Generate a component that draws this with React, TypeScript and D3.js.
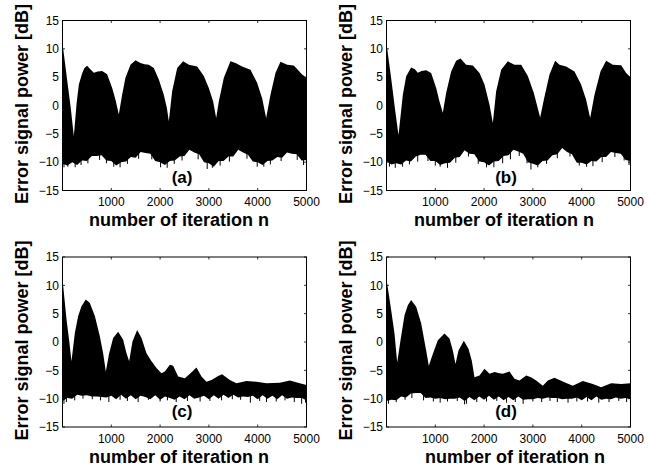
import React, { useRef, useEffect } from 'react';
import * as d3 from 'd3';

// tick values
const iterTicks = [1000, 2000, 3000, 4000, 5000];
const dbTicks = [-15, -10, -5, 0, 5, 10, 15];
const panelTags = ['(a)', '(b)', '(c)', '(d)'];

// lower envelope sampled every 100 iterations
const lowerIters = [
  0, 100, 200, 300, 400, 500, 600, 700, 800, 900, 1000, 1100, 1200, 1300, 1400, 1500, 1600,
  1700, 1800, 1900, 2000, 2100, 2200, 2300, 2400, 2500, 2600, 2700, 2800, 2900, 3000, 3100,
  3200, 3300, 3400, 3500, 3600, 3700, 3800, 3900, 4000, 4100, 4200, 4300, 4400, 4500, 4600,
  4700, 4800, 4900, 5000,
];

// upper envelope of the error power, [iteration, dB]
const upperA = [
  [0, 11.0], [100, 4.2], [170, -0.5], [232, -5.4], [290, 0.5], [335, 3.7], [400, 5.6], [450, 6.6],
  [505, 7.0], [570, 6.4], [642, 5.8], [720, 6.0], [813, 6.1], [915, 5.5], [1018, 3.1], [1086, 1.0],
  [1154, -1.6], [1222, 1.9], [1290, 4.9], [1393, 7.2], [1496, 8.0], [1598, 7.5], [1680, 7.3],
  [1769, 7.2], [1871, 6.6], [1974, 4.6], [2076, 1.9], [2140, -0.5], [2179, -2.8], [2247, 2.5],
  [2350, 6.6], [2472, 7.8], [2589, 7.2], [2760, 6.9], [2896, 5.2], [2998, 3.1], [3087, 0.7],
  [3149, -2.2], [3203, 0.7], [3306, 4.9], [3442, 7.8], [3545, 7.5], [3681, 6.9], [3852, 6.3],
  [3988, 4.0], [4091, 1.3], [4173, -2.2], [4262, 1.9], [4364, 5.75], [4467, 7.7], [4604, 7.2],
  [4740, 7.05], [4911, 5.45], [5000, 4.9],
];
const upperB = [
  [0, 11.0], [100, 4.5], [180, -1.0], [246, -5.2], [335, 1.9], [403, 5.15], [505, 6.7], [580, 6.4],
  [642, 5.8], [720, 6.1], [813, 6.2], [915, 5.75], [1018, 3.1], [1086, 0.7], [1154, -1.3],
  [1222, 2.2], [1325, 6.0], [1427, 7.9], [1516, 8.3], [1632, 7.2], [1769, 7.05], [1906, 5.75],
  [2008, 3.7], [2111, 0.15], [2179, -3.1], [2247, 2.5], [2350, 6.3], [2486, 7.8], [2623, 7.2],
  [2760, 7.2], [2896, 5.2], [3019, 2.2], [3149, -2.1], [3224, 1.0], [3340, 5.45], [3456, 7.9],
  [3545, 7.2], [3681, 6.9], [3852, 6.0], [3988, 3.7], [4091, 1.0], [4173, -2.2], [4262, 1.9],
  [4385, 6.0], [4501, 7.9], [4638, 7.2], [4809, 7.1], [4911, 5.75], [5000, 5.0],
];
const upperC = [
  [0, 11.1], [82, 4.0], [140, 0.0], [184, -3.4], [253, 1.6], [321, 4.6], [389, 6.3], [478, 7.5],
  [560, 6.9], [663, 4.6], [765, 1.0], [833, -2.0], [888, -5.2], [956, -2.0], [1038, 0.7],
  [1141, 1.8], [1243, 0.4], [1311, -2.0], [1366, -3.4], [1434, 0.1], [1530, 2.1], [1619, 0.7],
  [1721, -2.0], [1824, -3.4], [1926, -4.6], [2028, -5.5], [2097, -5.2], [2200, -4.0], [2268, -4.2],
  [2370, -6.1], [2507, -6.4], [2623, -5.5], [2746, -4.5], [2848, -6.1], [2951, -7.0], [3053, -6.7],
  [3190, -6.0], [3270, -5.7], [3429, -6.7], [3565, -7.3], [3770, -6.9], [3975, -7.0], [4180, -7.3],
  [4454, -7.2], [4658, -6.8], [4863, -7.3], [5000, -7.6],
];
const upperD = [
  [0, 11.1], [96, 5.6], [164, 1.5], [219, -3.6], [287, 0.3], [369, 4.7], [437, 6.5], [505, 7.4],
  [608, 6.2], [710, 3.3], [813, -1.5], [867, -4.2], [949, -2.1], [1052, 0.3], [1188, 1.5],
  [1291, 0.6], [1359, -1.5], [1414, -3.9], [1475, -1.5], [1585, 0.2], [1680, -1.2], [1748, -3.3],
  [1803, -6.2], [1906, -5.9], [2008, -4.7], [2111, -5.6], [2213, -5.3], [2315, -5.5], [2384, -5.6],
  [2520, -5.2], [2623, -6.5], [2725, -6.8], [2862, -5.9], [2964, -6.2], [3067, -6.8], [3203, -7.7],
  [3306, -6.8], [3442, -6.3], [3647, -7.1], [3818, -7.7], [4023, -6.9], [4228, -7.4], [4399, -8.0],
  [4604, -7.3], [4808, -7.4], [5000, -7.3],
];

// lower envelope values (dB) on lowerIters
const lowerA = [
  -10.3, -10.6, -10.0, -10.5, -9.7, -9.8, -8.9, -8.9, -8.8, -9.7, -9.8, -10.6, -10.0, -9.9, -9.1,
  -9.2, -8.2, -8.4, -8.5, -9.8, -10.0, -10.5, -9.8, -9.7, -9.0, -8.9, -7.8, -8.3, -8.6, -10.0,
  -10.2, -10.8, -9.8, -9.8, -9.0, -9.0, -7.8, -8.3, -8.7, -9.9, -10.0, -10.5, -9.8, -9.7, -9.1,
  -9.2, -8.3, -8.5, -8.6, -9.7, -9.6,
];
const lowerB = [
  -9.8, -10.4, -10.2, -10.4, -9.7, -9.9, -9.0, -8.7, -8.7, -9.8, -9.8, -10.5, -10.2, -10.1, -9.2,
  -9.1, -7.9, -8.5, -8.6, -9.9, -10.0, -10.6, -9.9, -9.8, -8.9, -8.8, -7.8, -8.1, -8.5, -10.0,
  -10.3, -10.6, -9.8, -9.7, -8.8, -8.6, -7.5, -8.2, -8.6, -10.1, -10.1, -10.4, -9.8, -9.9, -9.1,
  -9.1, -8.2, -8.4, -8.5, -9.6, -9.8,
];
const lowerC = [
  -10.4, -9.9, -10.0, -9.3, -9.5, -9.4, -9.6, -9.6, -9.7, -9.8, -9.5, -10.1, -9.3, -10.0, -9.4,
  -10.1, -9.5, -9.7, -10.1, -9.4, -10.2, -9.6, -9.9, -10.2, -9.6, -10.1, -9.4, -10.0, -9.8, -9.5,
  -10.1, -9.4, -10.0, -9.3, -9.9, -9.3, -9.8, -9.6, -9.7, -9.5, -10.1, -9.4, -10.0, -9.5, -10.1,
  -9.4, -10.0, -9.8, -9.9, -9.9, -10.3,
];
const lowerD = [
  -10.4, -10.2, -10.3, -9.6, -9.8, -9.1, -9.0, -9.0, -9.9, -9.8, -10.0, -9.9, -10.1, -10.0, -10.0,
  -9.8, -10.4, -9.7, -10.3, -9.6, -10.2, -9.5, -10.2, -9.6, -10.3, -9.7, -10.3, -9.6, -10.2, -10.1,
  -10.1, -9.9, -10.0, -9.8, -9.9, -9.9, -10.1, -10.0, -10.0, -9.8, -10.3, -9.7, -10.3, -9.6, -10.2,
  -10.0, -10.1, -9.8, -10.0, -9.9, -10.1,
];

// single-sample dips below the lower edge, [iteration, dB]
const spikesA = [
  [30, -10.9], [110, -10.8], [260, -10.9], [380, -10.5], [520, -10.2], [760, -9.6], [900, -10.2],
  [1050, -10.8], [1180, -10.9], [1330, -10.3], [1560, -9.4], [1830, -9.5], [2010, -10.9],
  [2145, -11.0], [2290, -10.3], [2450, -9.7], [2780, -9.5], [2965, -11.2], [3070, -11.0],
  [3230, -10.6], [3420, -9.9], [3780, -9.4], [3990, -10.8], [4125, -10.8], [4260, -10.4],
  [4480, -9.8], [4810, -9.6], [4940, -10.5],
];
const spikesB = [
  [60, -10.8], [180, -11.0], [330, -10.8], [470, -10.4], [640, -9.9], [850, -9.8], [1000, -10.6],
  [1100, -10.8], [1250, -11.0], [1420, -10.1], [1680, -9.0], [1880, -10.3], [2050, -10.9],
  [2200, -10.9], [2380, -10.2], [2540, -9.5], [2720, -8.9], [2880, -10.2], [2960, -11.3],
  [3100, -10.9], [3280, -10.3], [3500, -9.3], [3760, -9.0], [3950, -10.6], [4100, -10.8],
  [4230, -10.7], [4420, -10.0], [4680, -9.1], [4870, -9.7], [4970, -10.5],
];
const spikesC = [
  [30, -10.9], [80, -10.6], [250, -10.3], [420, -10.0], [610, -10.1], [780, -10.3], [950, -10.6],
  [1180, -10.2], [1330, -10.4], [1550, -10.6], [1760, -10.2], [2000, -10.5], [2150, -10.3],
  [2330, -10.6], [2560, -10.4], [2820, -10.5], [3020, -10.4], [3260, -10.3], [3480, -10.1],
  [3650, -10.2], [3850, -10.7], [4040, -10.4], [4180, -10.6], [4380, -10.5], [4560, -10.3],
  [4750, -10.6], [4900, -10.9], [4980, -10.7],
];
const spikesD = [
  [40, -10.9], [200, -10.6], [380, -10.2], [520, -9.9], [760, -10.3], [960, -10.5], [1100, -10.7],
  [1250, -10.5], [1450, -10.4], [1600, -11.0], [1640, -10.9], [1850, -10.6], [2050, -10.5],
  [2260, -10.4], [2460, -10.7], [2640, -10.6], [2800, -10.9], [3000, -10.5], [3180, -10.6],
  [3350, -10.4], [3500, -10.6], [3720, -10.7], [3900, -10.5], [4120, -10.5], [4350, -10.7],
  [4560, -10.6], [4760, -10.4], [4920, -10.6],
];

// panel layout: plot box and label anchors (pixels)
const layout = [
  { left: 62.5, top: 20.5, xLabelX: 179, tagY: -13.6 },
  { left: 386.5, top: 20.5, xLabelX: 504, tagY: -13.6 },
  { left: 62.5, top: 257, xLabelX: 179, tagY: -13.2 },
  { left: 386.5, top: 257, xLabelX: 515, tagY: -13.2 },
];
const series = [
  { upper: upperA, lower: lowerA, spikes: spikesA },
  { upper: upperB, lower: lowerB, spikes: spikesB },
  { upper: upperC, lower: lowerC, spikes: spikesC },
  { upper: upperD, lower: lowerD, spikes: spikesD },
];

const W = 656;
const H = 467;
const PW = 244;
const PH = 170;
const FONT = "'Liberation Sans', Arial, Helvetica, sans-serif";

const App = () => {
  const svgRef = useRef(null);

  useEffect(() => {
    const svg = d3.select(svgRef.current);
    svg.selectAll('*').remove();

    layout.forEach((p, i) => {
      const s = series[i];
      const x = d3.scaleLinear().domain([0, 5000]).range([p.left, p.left + PW]);
      const y = d3.scaleLinear().domain([-15, 15]).range([p.top + PH, p.top]);
      const g = svg.append('g');

      const clipId = `clip-${i}`;
      svg.append('clipPath').attr('id', clipId)
        .append('rect')
        .attr('x', p.left).attr('y', p.top)
        .attr('width', PW).attr('height', PH);

      const plot = g.append('g').attr('clip-path', `url(#${clipId})`);

      // black band: fill from upper envelope down, then cut away below the lower envelope
      plot.append('path')
        .datum(s.upper)
        .attr('fill', '#000')
        .attr('d', d3.area()
          .x(d => x(d[0]))
          .y0(y(-12.5))
          .y1(d => y(d[1])));

      plot.append('path')
        .datum(lowerIters.map((n, k) => [n, s.lower[k]]))
        .attr('fill', '#fff')
        .attr('d', d3.area()
          .x(d => x(d[0]))
          .y0(y(-15))
          .y1(d => y(d[1])));

      plot.selectAll('line.spike')
        .data(s.spikes)
        .join('line')
        .attr('class', 'spike')
        .attr('x1', d => x(d[0])).attr('x2', d => x(d[0]))
        .attr('y1', d => y(d[1])).attr('y2', d => y(d[1] + 1.5))
        .attr('stroke', '#000')
        .attr('stroke-width', 1);

      // frame
      g.append('rect')
        .attr('x', p.left).attr('y', p.top)
        .attr('width', PW).attr('height', PH)
        .attr('fill', 'none')
        .attr('stroke', '#000')
        .attr('stroke-width', 1);

      // inward ticks on all four sides
      const tl = 2.5;
      iterTicks.forEach(t => {
        g.append('line').attr('x1', x(t)).attr('x2', x(t))
          .attr('y1', p.top + PH).attr('y2', p.top + PH - tl)
          .attr('stroke', '#000').attr('stroke-width', 0.8);
        g.append('line').attr('x1', x(t)).attr('x2', x(t))
          .attr('y1', p.top).attr('y2', p.top + tl)
          .attr('stroke', '#000').attr('stroke-width', 0.8);
      });
      dbTicks.forEach(t => {
        g.append('line').attr('x1', p.left).attr('x2', p.left + tl)
          .attr('y1', y(t)).attr('y2', y(t))
          .attr('stroke', '#000').attr('stroke-width', 0.8);
        g.append('line').attr('x1', p.left + PW).attr('x2', p.left + PW - tl)
          .attr('y1', y(t)).attr('y2', y(t))
          .attr('stroke', '#000').attr('stroke-width', 0.8);
      });

      // tick labels
      g.selectAll('text.xt')
        .data(iterTicks)
        .join('text')
        .attr('class', 'xt')
        .attr('x', d => x(d))
        .attr('y', p.top + PH + 15.5)
        .attr('text-anchor', 'middle')
        .style('font-family', FONT)
        .style('font-size', '12px')
        .text(d => String(d));

      g.selectAll('text.yt')
        .data(dbTicks)
        .join('text')
        .attr('class', 'yt')
        .attr('x', p.left - 3.5)
        .attr('y', d => y(d))
        .attr('dy', '0.36em')
        .attr('text-anchor', 'end')
        .style('font-family', FONT)
        .style('font-size', '12px')
        .text(d => (d < 0 ? '\u2212' + Math.abs(d) : String(d)));

      // axis labels
      g.append('text')
        .attr('x', p.xLabelX)
        .attr('y', p.top + PH + 35.5)
        .attr('text-anchor', 'middle')
        .style('font-family', FONT)
        .style('font-size', '18px')
        .style('font-weight', 'bold')
        .text('number of iteration n');

      g.append('text')
        .attr('transform', `translate(${p.left - 34.5},${p.top + PH / 2 - 1.5}) rotate(-90)`)
        .attr('text-anchor', 'middle')
        .style('font-family', FONT)
        .style('font-size', '18px')
        .style('font-weight', 'bold')
        .text('Error signal power [dB]');

      // panel tag
      g.append('text')
        .attr('x', x(2450))
        .attr('y', y(p.tagY))
        .attr('text-anchor', 'middle')
        .style('font-family', FONT)
        .style('font-size', '17px')
        .style('font-weight', 'bold')
        .text(panelTags[i]);
    });
  }, []);

  return (
    <svg
      ref={svgRef}
      width={W}
      height={H}
      style={{ position: 'absolute', left: 0, top: 0, background: '#fff' }}
    />
  );
};

export default App;
